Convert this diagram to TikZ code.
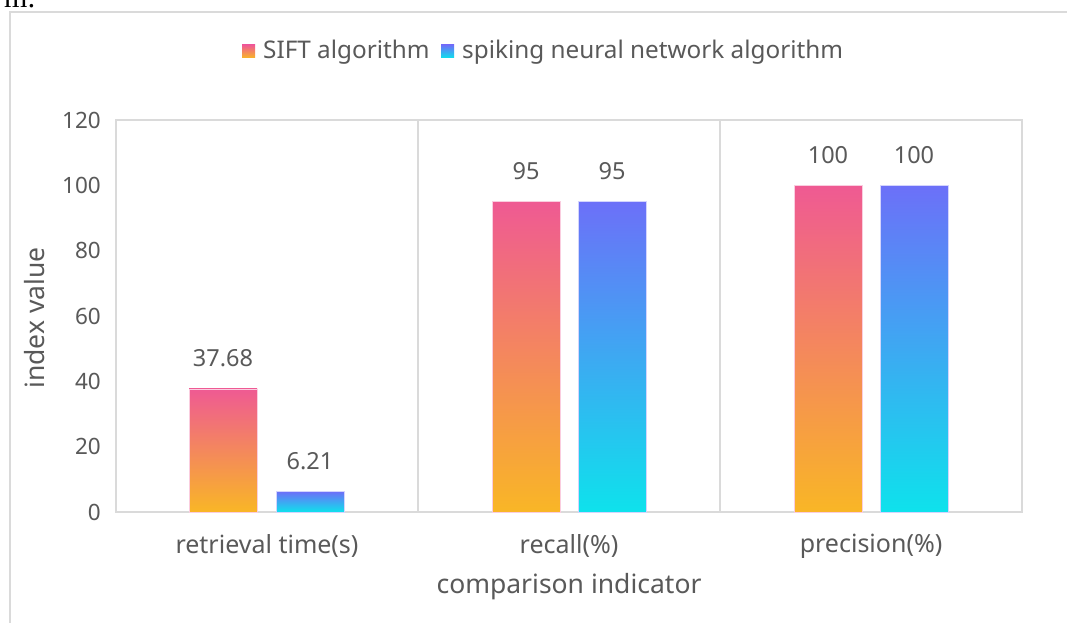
\documentclass[tikz,border=0pt]{standalone}
\usepackage{fontspec}
\setmainfont{Noto Sans}
\newfontfamily\capserif{Liberation Serif}
\definecolor{txt}{HTML}{595959}
\definecolor{gridc}{HTML}{DADADA}
\definecolor{pinktop}{HTML}{EF5A93}
\definecolor{orangebot}{HTML}{F9B626}
\definecolor{bluetop}{HTML}{6C70F8}
\definecolor{cyanbot}{HTML}{0EE2EC}
\begin{document}
\begin{tikzpicture}[x=1pt,y=-1pt,
  font=\fontsize{22}{26}\selectfont,
  lbl/.style={text=txt, inner sep=0pt},
  ticklbl/.style={lbl, anchor=east, font=\fontsize{22.5}{26}\selectfont},
  vallbl/.style={lbl, font=\fontsize{23.5}{26}\selectfont},
  catlbl/.style={lbl, font=\fontsize{25}{28}\selectfont},
  axlbl/.style={lbl, font=\fontsize{26.5}{30}\selectfont},
  leglbl/.style={lbl, anchor=west, font=\fontsize{24.3}{28}\selectfont},
  frame/.style={draw=gridc, line width=1.8pt},
  siftbar/.style={top color=pinktop, bottom color=orangebot, draw=pinktop!30, line width=0.5pt},
  snnbar/.style={top color=bluetop, bottom color=cyanbot, draw=bluetop!30, line width=0.5pt}]
\useasboundingbox (0,0) rectangle (1067,623);
\fill[white] (0,0) rectangle (1067,623);
% cut-off caption fragment
\node[anchor=base east, inner sep=0pt, font=\capserif\fontsize{30}{30}\selectfont] (frag) at (36,7.5) {m:};
% outer frame
\draw[frame] (10,623) -- (10,12) -- (1067,12);
% plot frame and separators
\draw[frame] (116,120) rectangle (1022,512);
\draw[frame] (418,120) -- (418,512);
\draw[frame] (720,120) -- (720,512);
% bars (y = 512 - 3.2667 v)
\shade[siftbar] (189,388.9) rectangle (257,512);
\shade[snnbar]  (276,491.7) rectangle (344,512);
\shade[siftbar] (492,201.7) rectangle (560,512);
\shade[snnbar]  (578,201.7) rectangle (646,512);
\shade[siftbar] (794,185.3) rectangle (862,512);
\shade[snnbar]  (880,185.3) rectangle (948,512);
% value labels
\node[vallbl] (v1) at (223,358) {37.68};
\node[vallbl] (v2) at (310,461) {6.21};
\node[vallbl] (v3) at (526,171) {95};
\node[vallbl] (v4) at (612,171) {95};
\node[vallbl] (v5) at (828,155) {100};
\node[vallbl] (v6) at (914,155) {100};
% y ticks
\foreach \v/\yy in {0/512,20/446.7,40/381.3,60/316,80/250.7,100/185.3,120/120}
  \node[ticklbl] (t\v) at (101,\yy) {\v};
% axis titles
\node[axlbl, rotate=90] (ylab) at (35,318) {index value};
\node[catlbl] (c1) at (267,546) {retrieval time(s)};
\node[catlbl] (c2) at (569,546) {recall(\%)};
\node[catlbl] (c3) at (871,546) {precision(\%)};
\node[axlbl] (xlab) at (569,587) {comparison indicator};
% legend
\shade[top color=pinktop, bottom color=orangebot] (242,45) rectangle (255,58);
\node[leglbl] (leg1) at (263,52) {SIFT algorithm};
\shade[top color=bluetop, bottom color=cyanbot] (441,45) rectangle (454,58);
\node[leglbl] (leg2) at (462,52) {spiking neural network algorithm};
\end{tikzpicture}
\end{document}
